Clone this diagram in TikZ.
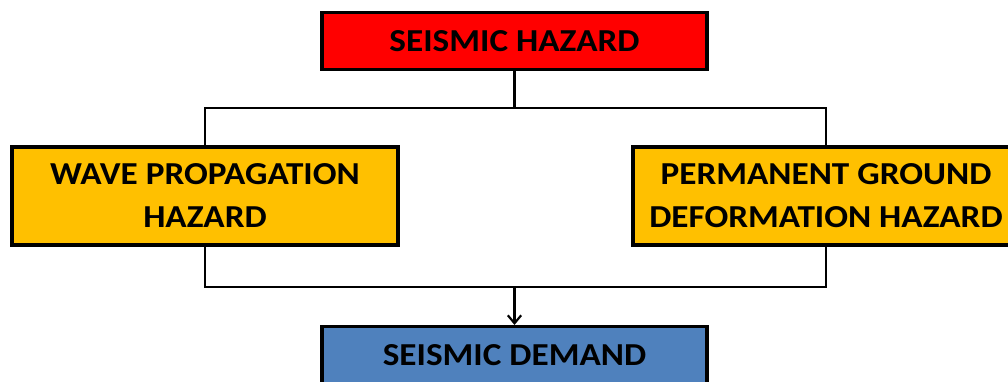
\documentclass[tikz,border=0pt]{standalone}
\usepackage{fontspec}
\newfontfamily\boxfont[FakeStretch=1.1]{Carlito}
\usetikzlibrary{arrows.meta}
\definecolor{hazred}{HTML}{FF0000}
\definecolor{hazgold}{HTML}{FFC000}
\definecolor{demblue}{HTML}{4F81BD}
\tikzset{
  box/.style={draw=black, line width=2.3pt, rectangle, align=center,
    font=\boxfont\bfseries\fontsize{24}{32.25}\selectfont, inner sep=0pt},
  topbox/.style={box, fill=hazred, minimum width=288.75pt, minimum height=42.75pt},
  sidebox/.style={box, fill=hazgold, minimum width=289.5pt, minimum height=73.5pt},
  demandbox/.style={box, fill=demblue, minimum width=288.75pt, minimum height=42.75pt},
  link/.style={line width=2pt, draw=black},
  flow/.style={link, -{Straight Barb[length=6pt, width=10pt, line width=1.6pt]}}
}
\begin{document}
\begin{tikzpicture}[x=0.75pt, y=-0.75pt]
  \useasboundingbox (0,0) rectangle (1008,382);
  \clip (0,0) rectangle (1008,382);

  \node[topbox] (hazard) at (514.5,41) {SEISMIC HAZARD};
  \node[sidebox] (wave) at (205,196) {WAVE PROPAGATION\\HAZARD};
  \node[sidebox] (pgd) at (826,196) {PERMANENT GROUND\\DEFORMATION HAZARD};
  \node[demandbox] (demand) at (514.5,355) {SEISMIC DEMAND};

  \coordinate (split) at (514.5,108);
  \coordinate (merge) at (514.5,287);

  % branching from the hazard box
  \draw[link] (hazard.south) -- (split);
  \draw[link] (split) -| (wave.north);
  \draw[link] (split) -| (pgd.north);

  % joining into the demand box
  \draw[link] (wave.south) |- (merge);
  \draw[link] (pgd.south) |- (merge);
  \draw[flow] (merge) -- (demand.north);
\end{tikzpicture}
\end{document}
